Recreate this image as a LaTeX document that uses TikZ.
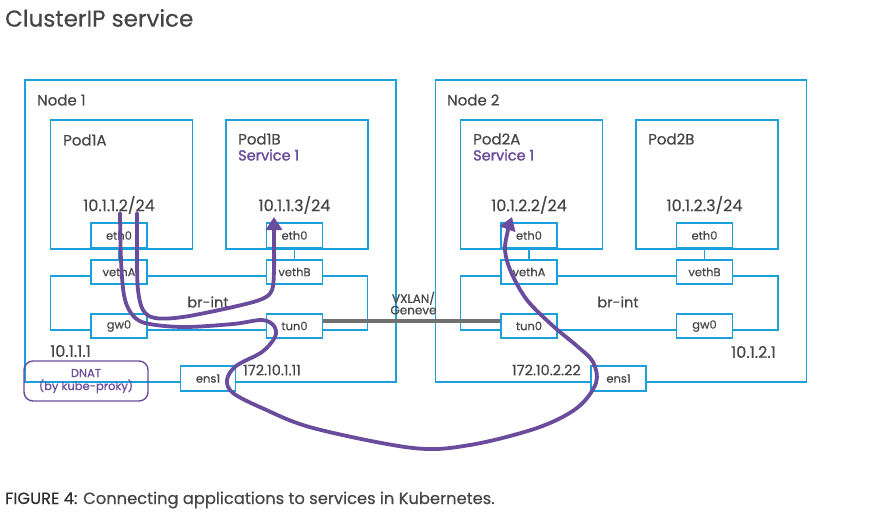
\documentclass[tikz,border=0pt]{standalone}
\usepackage{fontspec}
\setmainfont[FakeBold=0.35]{Poppins}
\newfontfamily\svcfont[FakeBold=1.6]{Poppins}
\usetikzlibrary{arrows.meta}
\definecolor{kblue}{HTML}{1BA0DC}
\definecolor{kpurple}{HTML}{6A4C9C}
\definecolor{ktext}{HTML}{454545}
\definecolor{kdark}{HTML}{2E2E2E}
\definecolor{kgray}{HTML}{707070}
\begin{document}
\begin{tikzpicture}[x=1pt,y=-1pt,
  box/.style={draw=kblue,line width=1.8pt,inner sep=0pt,anchor=north west},
  port/.style={draw=kblue,line width=1.8pt,fill=white,minimum width=56pt,minimum height=24.5pt,inner sep=0pt,font=\fontsize{11.5}{13}\selectfont,text=ktext},
  link/.style={draw=kblue,line width=1.8pt},
  lbl/.style={text=ktext,inner sep=0pt,font=\fontsize{15}{17}\selectfont},
  ip/.style={text=ktext,inner sep=0pt,font=\fontsize{16}{18}\selectfont},
  small/.style={text=ktext,inner sep=0pt,font=\fontsize{11}{12}\selectfont},
  svc/.style={text=kpurple,inner sep=0pt,anchor=west,font=\svcfont\fontsize{14.5}{16}\selectfont},
  flow/.style={draw=kpurple,line width=3.8pt,line cap=round,line join=round},
  tip/.style={-{Triangle[length=13pt,width=16pt]}}]
\useasboundingbox (0,0) rectangle (880,516);
\fill[white] (0,0) rectangle (880,516);
% title
\node[lbl,anchor=west,font=\fontsize{23}{25}\selectfont] (title) at (5,18) {ClusterIP service};
% node boxes
\node[box,minimum width=371pt,minimum height=301.5pt] (node1) at (24,79.5) {};
\node[box,minimum width=371pt,minimum height=301.5pt] (node2) at (434.5,79.5) {};
% pods
\node[box,minimum width=142pt,minimum height=128.5pt] (pod1a) at (49.5,119.5) {};
\node[box,minimum width=142pt,minimum height=128.5pt] (pod1b) at (225,119.5) {};
\node[box,minimum width=142pt,minimum height=128.5pt] (pod2a) at (459.5,119.5) {};
\node[box,minimum width=142pt,minimum height=128.5pt] (pod2b) at (635,119.5) {};
% bridges
\node[box,minimum width=317pt,minimum height=54pt] (br1) at (49.5,275) {};
\node[box,minimum width=317.5pt,minimum height=54pt] (br2) at (459.5,275) {};
% eth-veth links
\draw[link] (119,248) coordinate (l1a) -- (119,260) coordinate (l1b);
\draw[link] (294.5,248) coordinate (l2a) -- (294.5,260) coordinate (l2b);
\draw[link] (529,248) coordinate (l3a) -- (529,260) coordinate (l3b);
\draw[link] (704.5,248) coordinate (l4a) -- (704.5,260) coordinate (l4b);
% ports node 1
\node[port] (p1aeth) at (119,235.5) {eth0};
\node[port] (p1aveth) at (119,272) {vethA};
\node[port] (gw1) at (119,326) {gw0};
\node[port] (p1beth) at (294.5,235.5) {eth0};
\node[port] (p1bveth) at (294.5,272) {vethB};
\node[port] (tun1) at (294.5,326) {tun0};
\node[port,minimum width=55pt] (ens1a) at (208,378.5) {ens1};
% ports node 2
\node[port] (p2aeth) at (529,235.5) {eth0};
\node[port] (p2aveth) at (529,272) {vethA};
\node[port] (tun2) at (529,326) {tun0};
\node[port] (p2beth) at (704.5,235.5) {eth0};
\node[port] (p2bveth) at (704.5,272) {vethB};
\node[port] (gw2) at (704.5,326) {gw0};
\node[port,minimum width=55pt] (ens1b) at (618.5,378.5) {ens1};
% tunnel
\draw[kgray,line width=3.5pt] ([yshift=5pt]tun1.east) -- ([yshift=5pt]tun2.west);
\node[small,align=center,font=\fontsize{12}{11.5}\selectfont] (vx) at (413.5,303) {VXLAN/\\Geneve};
% DNAT
\node[draw=kpurple,line width=1.4pt,rounded corners=9pt,minimum width=124pt,minimum height=40pt,inner sep=0pt,align=center,text=kpurple,font=\fontsize{11.5}{13}\selectfont] (dnat) at (86,381) {DNAT\\(by kube-proky)};
% labels
\node[lbl,anchor=west] (n1lbl) at (37,100) {Node 1};
\node[lbl,anchor=west] (n2lbl) at (447,100) {Node 2};
\node[lbl,anchor=west] (t1a) at (63,140) {Pod1A};
\node[lbl,anchor=west] (t1b) at (238,139) {Pod1B};
\node[svc] (s1b) at (238,155) {Service 1};
\node[lbl,anchor=west] (t2a) at (473,139) {Pod2A};
\node[svc] (s2a) at (473,155) {Service 1};
\node[lbl,anchor=west] (t2b) at (648,139) {Pod2B};
\node[ip] (ip1a) at (119,205) {10.1.1.2/24};
\node[ip] (ip1b) at (294.5,205) {10.1.1.3/24};
\node[ip] (ip2a) at (529,205) {10.1.2.2/24};
\node[ip] (ip2b) at (704.5,205) {10.1.2.3/24};
\node[lbl,font=\fontsize{14.5}{17}\selectfont] (bri1) at (208,302) {br-int};
\node[lbl,font=\fontsize{14.5}{17}\selectfont] (bri2) at (618,302) {br-int};
\node[ip,anchor=west] (gwip1) at (50,351) {10.1.1.1};
\node[ip,anchor=east] (gwip2) at (776,352) {10.1.2.1};
\node[lbl,anchor=west,font=\fontsize{14.5}{17}\selectfont] (hip1) at (243,370) {172.10.1.11};
\node[lbl,anchor=east,font=\fontsize{14.5}{17}\selectfont] (hip2) at (581,370) {172.10.2.22};
% flows
\coordinate (fa0) at (120,213);
\coordinate (fa1) at (512,217);
\coordinate (fb0) at (137,213);
\coordinate (fb1) at (274,217);
\draw[flow,tip] plot[smooth,tension=0.55] coordinates {(fa0) (121,260) (124,295) (131,313) (145,323) (183,327) (233,324) (262,320) (274,326) (275,337) (262,352) (236,366) (227,380) (233,393) (262,408) (313,428) (413,448) (470,445) (537,428) (577,408) (596,383) (593,362) (577,346) (553,326) (527,300) (511,272) (505,250) (508,230) (fa1)};
\draw[flow,tip] plot[smooth,tension=0.55] coordinates {(fb0) (137,260) (138,290) (143,310) (155,318) (183,317) (233,307) (262,299) (272,290) (274,270) (274,240) (fb1)};
% caption
\node[lbl,anchor=west,font=\fontsize{16.3}{18}\selectfont] (cap) at (5,500) {{\color{kdark}FIGURE 4:} Connecting applications to services in Kubernetes.};
\end{tikzpicture}
\end{document}
